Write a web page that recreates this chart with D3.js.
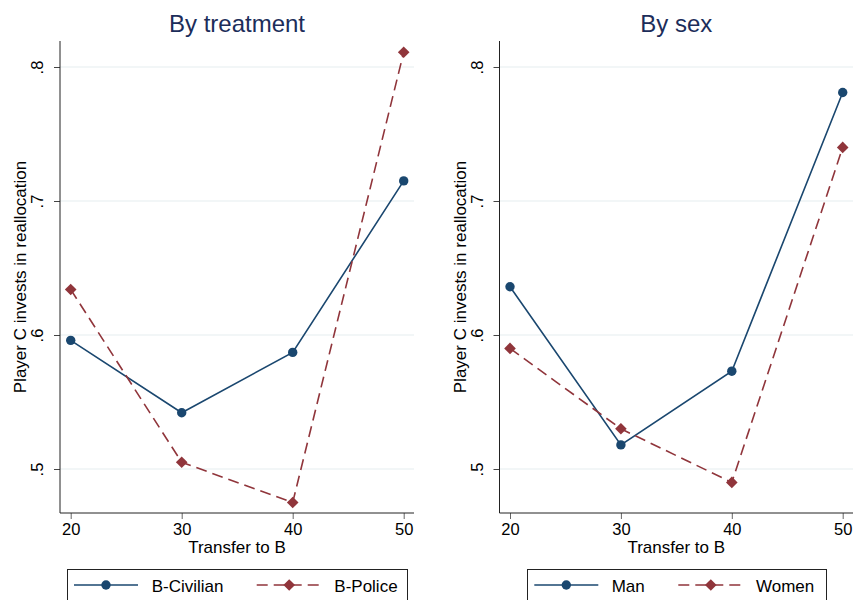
<!DOCTYPE html>
<html>
<head>
<meta charset="utf-8">
<script src="https://cdn.jsdelivr.net/npm/d3@7"></script>
<style>
    body { margin: 0; background: #fff; }
    text { font-family: "Liberation Sans", Arial, sans-serif; }
</style>
</head>
<body>
<div id="chart"></div>
<script>

var transfers = [20, 30, 40, 50];
var yTicks = [0.5, 0.6, 0.7, 0.8];

var civilian = [0.596, 0.542, 0.587, 0.715];
var police = [0.634, 0.505, 0.475, 0.811];

var man = [0.636, 0.518, 0.573, 0.781];
var women = [0.590, 0.530, 0.490, 0.740];

var panelTitles = ["By treatment", "By sex"];
var legendNames = [["B-Civilian", "B-Police"], ["Man", "Women"]];

var navy = "#1a476f";
var maroon = "#90353b";

var svg = d3.select("#chart")
    .append("svg")
    .attr("width", 855)
    .attr("height", 600);

var y = d3.scaleLinear()
    .domain([0.5, 0.8])
    .range([469, 67]);

var plotTop = 41, plotBottom = 513;

var panels = [
    { left: 60, right: 414, x0: 70.7, x1: 403.7, legendX: 67, legendW: 340,
      series: [civilian, police], names: legendNames[0], title: panelTitles[0],
      lx: [74, 151.7, 256.7, 334.3] },
    { left: 499.5, right: 853, x0: 510, x1: 842.7, legendX: 527, legendW: 299,
      series: [man, women], names: legendNames[1], title: panelTitles[1],
      lx: [534.3, 611.7, 678.3, 756] }
];

function diamond(g, cx, cy, r, color) {
    g.append("path")
        .attr("d", "M" + cx + "," + (cy - r) + "L" + (cx + r) + "," + cy +
            "L" + cx + "," + (cy + r) + "L" + (cx - r) + "," + cy + "Z")
        .attr("fill", color);
}

panels.forEach(function (p) {

    var x = d3.scaleLinear()
        .domain([20, 50])
        .range([p.x0, p.x1]);

    var g = svg.append("g");
    var mid = (p.left + p.right) / 2;

    // grid
    g.selectAll("line.grid")
        .data(yTicks)
        .enter().append("line")
        .attr("x1", p.left)
        .attr("x2", p.right)
        .attr("y1", y)
        .attr("y2", y)
        .attr("stroke", "#e6eef0")
        .attr("stroke-width", 1.2);

    // y axis
    var ya = g.append("g")
        .attr("transform", "translate(" + p.left + ",0)")
        .call(d3.axisLeft(y).tickValues(yTicks).tickSize(6)
            .tickFormat(function (d) { return d3.format(".1f")(d).replace(/^0/, ""); }));
    ya.select(".domain").remove();
    ya.selectAll("line").attr("stroke", "#444");
    ya.selectAll("text")
        .attr("transform", "rotate(-90)")
        .attr("x", 0)
        .attr("y", -17)
        .attr("dy", 0)
        .attr("text-anchor", "middle")
        .attr("font-size", "16.5px")
        .attr("font-family", "Liberation Sans, Arial, sans-serif")
        .attr("fill", "#000");

    // x axis
    var xa = g.append("g")
        .attr("transform", "translate(0," + plotBottom + ")")
        .call(d3.axisBottom(x).tickValues(transfers).tickSize(6).tickPadding(4.3));
    xa.select(".domain").remove();
    xa.selectAll("line").attr("stroke", "#666");
    xa.selectAll("text")
        .attr("font-size", "16.5px")
        .attr("font-family", "Liberation Sans, Arial, sans-serif")
        .attr("fill", "#000");

    g.append("line")
        .attr("x1", p.left).attr("x2", p.left)
        .attr("y1", plotTop).attr("y2", plotBottom)
        .attr("stroke", "#222");
    g.append("line")
        .attr("x1", p.left).attr("x2", p.right)
        .attr("y1", plotBottom).attr("y2", plotBottom)
        .attr("stroke", "#222");

    // titles
    g.append("text")
        .attr("x", mid)
        .attr("y", 31.5)
        .attr("text-anchor", "middle")
        .attr("font-size", "24px")
        .attr("fill", "#1c2d5a")
        .text(p.title);

    g.append("text")
        .attr("x", mid)
        .attr("y", 553)
        .attr("text-anchor", "middle")
        .attr("font-size", "17px")
        .attr("fill", "#000")
        .text("Transfer to B");

    g.append("text")
        .attr("transform", "translate(" + (p.left - 34) + "," + ((plotTop + plotBottom) / 2) + ") rotate(-90)")
        .attr("text-anchor", "middle")
        .attr("font-size", "17px")
        .attr("fill", "#000")
        .text("Player C invests in reallocation");

    // series
    var line = d3.line()
        .x(function (d, i) { return x(transfers[i]); })
        .y(function (d) { return y(d); });

    g.append("path")
        .datum(p.series[0])
        .attr("d", line)
        .attr("fill", "none")
        .attr("stroke", navy)
        .attr("stroke-width", 1.6);

    g.append("path")
        .datum(p.series[1])
        .attr("d", line)
        .attr("fill", "none")
        .attr("stroke", maroon)
        .attr("stroke-width", 1.6)
        .attr("stroke-dasharray", "11,6");

    g.selectAll("circle.pt")
        .data(p.series[0])
        .enter().append("circle")
        .attr("cx", function (d, i) { return x(transfers[i]); })
        .attr("cy", y)
        .attr("r", 4.7)
        .attr("fill", navy);

    p.series[1].forEach(function (d, i) {
        diamond(g, x(transfers[i]), y(d), 5.8, maroon);
    });

    // legend
    var ly = 585;
    g.append("rect")
        .attr("x", p.legendX + 0.5)
        .attr("y", 569.5)
        .attr("width", p.legendW)
        .attr("height", 40)
        .attr("fill", "#fff")
        .attr("stroke", "#222");

    g.append("line")
        .attr("x1", p.lx[0]).attr("x2", p.lx[0] + 64)
        .attr("y1", ly).attr("y2", ly)
        .attr("stroke", navy).attr("stroke-width", 1.6);
    g.append("circle")
        .attr("cx", p.lx[0] + 32).attr("cy", ly).attr("r", 4.7)
        .attr("fill", navy);
    g.append("text")
        .attr("x", p.lx[1]).attr("y", ly + 6.5)
        .attr("font-size", "17px").attr("fill", "#000")
        .text(p.names[0]);

    g.append("line")
        .attr("x1", p.lx[2]).attr("x2", p.lx[2] + 65)
        .attr("y1", ly).attr("y2", ly)
        .attr("stroke", maroon).attr("stroke-width", 1.6)
        .attr("stroke-dasharray", "11,6");
    diamond(g, p.lx[2] + 32.5, ly, 5.8, maroon);
    g.append("text")
        .attr("x", p.lx[3]).attr("y", ly + 6.5)
        .attr("font-size", "17px").attr("fill", "#000")
        .text(p.names[1]);
});

</script>
</body>
</html>
